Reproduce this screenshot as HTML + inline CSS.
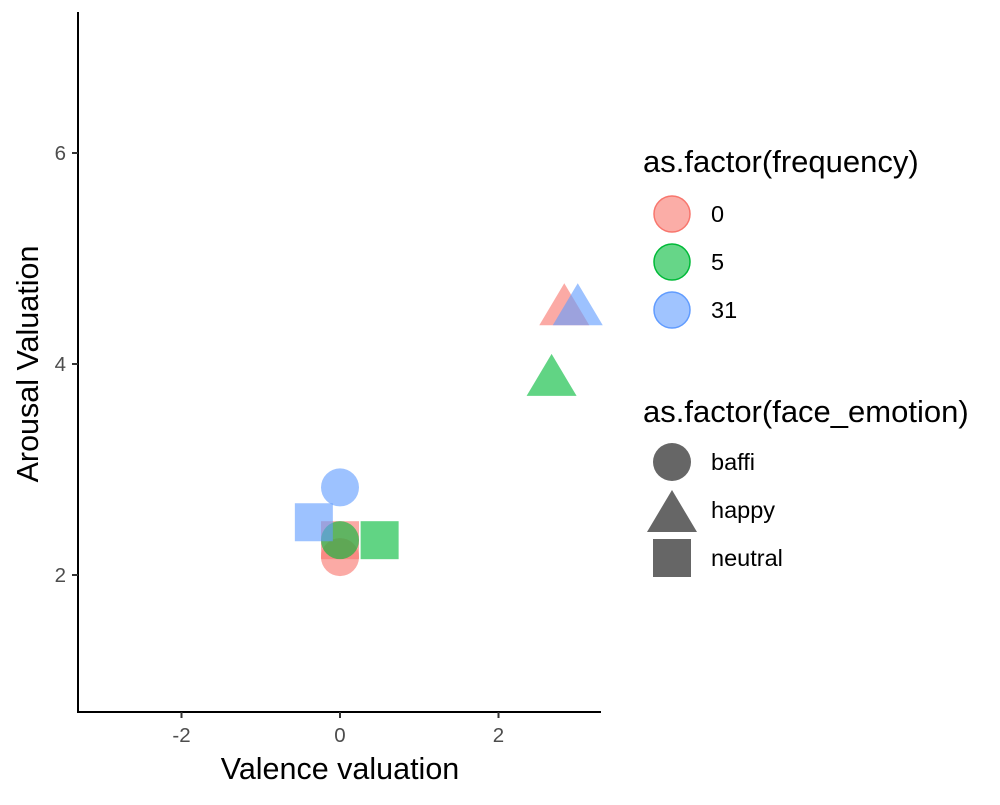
<!DOCTYPE html>
<html><head><meta charset="utf-8"><style>
body{margin:0;background:#fff;font-family:"Liberation Sans",sans-serif}
svg text{font-family:"Liberation Sans",sans-serif}
</style></head><body>
<svg width="1000" height="800">
<g id="axes"></g>
<g id="marks"></g>
<g id="legend"></g>
</svg>
<script>
const xs=[0,0,0,0.5,0,-0.33,2.83,2.67,3];
const ys=[2.17,2.33,2.33,2.33,2.83,2.5,4.5,3.83,4.5];
const freq=['0','0','5','5','31','31','0','5','31'];
const shapes=['baffi','neutral','baffi','neutral','baffi','neutral','happy','happy','happy'];
const xTicks=[-2,0,2];
const yTicks=[2,4,6];
const freqLevels=['0','5','31'];
const shapeLevels=['baffi','happy','neutral'];
const colors={'0':'#F8766D','5':'#00BA38','31':'#619CFF'};
const NS='http://www.w3.org/2000/svg';
const X=v=>340+v*79.25, Y=v=>575-(v-2)*105.5;
function mk(t,a,p){const e=document.createElementNS(NS,t);for(const k in a)e.setAttribute(k,a[k]);p.appendChild(e);return e;}
const ax=document.getElementById('axes');
let e=mk('line',{x1:78,y1:12,x2:78,y2:712,stroke:'#000','stroke-width':2},ax);


e=mk('line',{x1:77,y1:712,x2:601,y2:712,stroke:'#000','stroke-width':2},ax);


xTicks.forEach(t=>{mk('line',{x1:X(t),x2:X(t),y1:712,y2:718,stroke:'#333','stroke-width':2},ax);
const tx=mk('text',{x:X(t),y:742,'text-anchor':'middle','font-size':20.5,fill:'#4d4d4d'},ax);tx.textContent=t;

});
yTicks.forEach(t=>{mk('line',{x1:72,x2:78,y1:Y(t),y2:Y(t),stroke:'#333','stroke-width':2},ax);
const tx=mk('text',{x:66,y:Y(t)+7,'text-anchor':'end','font-size':20.5,fill:'#4d4d4d'},ax);tx.textContent=t;

});
e=mk('text',{x:340,y:779,'text-anchor':'middle','font-size':30.5},ax);e.textContent='Valence valuation';


e=mk('text',{x:38,y:364,'text-anchor':'middle','font-size':30.5,transform:'rotate(-90 38 364)'},ax);e.textContent='Arousal Valuation';


function shape(s,cx,cy,fill,op,p){
 if(s==='baffi')return mk('circle',{cx,cy,r:19,fill,'fill-opacity':op},p);
 if(s==='neutral')return mk('rect',{x:cx-19,y:cy-19,width:38,height:38,fill,'fill-opacity':op},p);
 return mk('polygon',{points:`${cx},${cy-28} ${cx+25},${cy+14} ${cx-25},${cy+14}`,fill,'fill-opacity':op},p);
}
const mg=document.getElementById('marks');
xs.forEach((v,i)=>{const m=shape(shapes[i],X(v),Y(ys[i]),colors[freq[i]],0.62,mg);

});
const lg=document.getElementById('legend');
e=mk('text',{x:643,y:172,'font-size':31},lg);e.textContent='as.factor(frequency)';


freqLevels.forEach((f,i)=>{const cy=214+i*48;
const c=mk('circle',{cx:672,cy,r:18,fill:colors[f],'fill-opacity':0.6,stroke:colors[f],'stroke-width':1.5},lg);


const t=mk('text',{x:711,y:cy+8,'font-size':23.5},lg);t.textContent=f;

});
e=mk('text',{x:643,y:422,'font-size':31},lg);e.textContent='as.factor(face_emotion)';


shapeLevels.forEach((s,i)=>{const cy=462+i*48;
const c=shape(s,672,s==='happy'?cy+8:cy,'#666666',1,lg);


const t=mk('text',{x:711,y:cy+8,'font-size':23.5},lg);t.textContent=s;

});
</script>
</body></html>
